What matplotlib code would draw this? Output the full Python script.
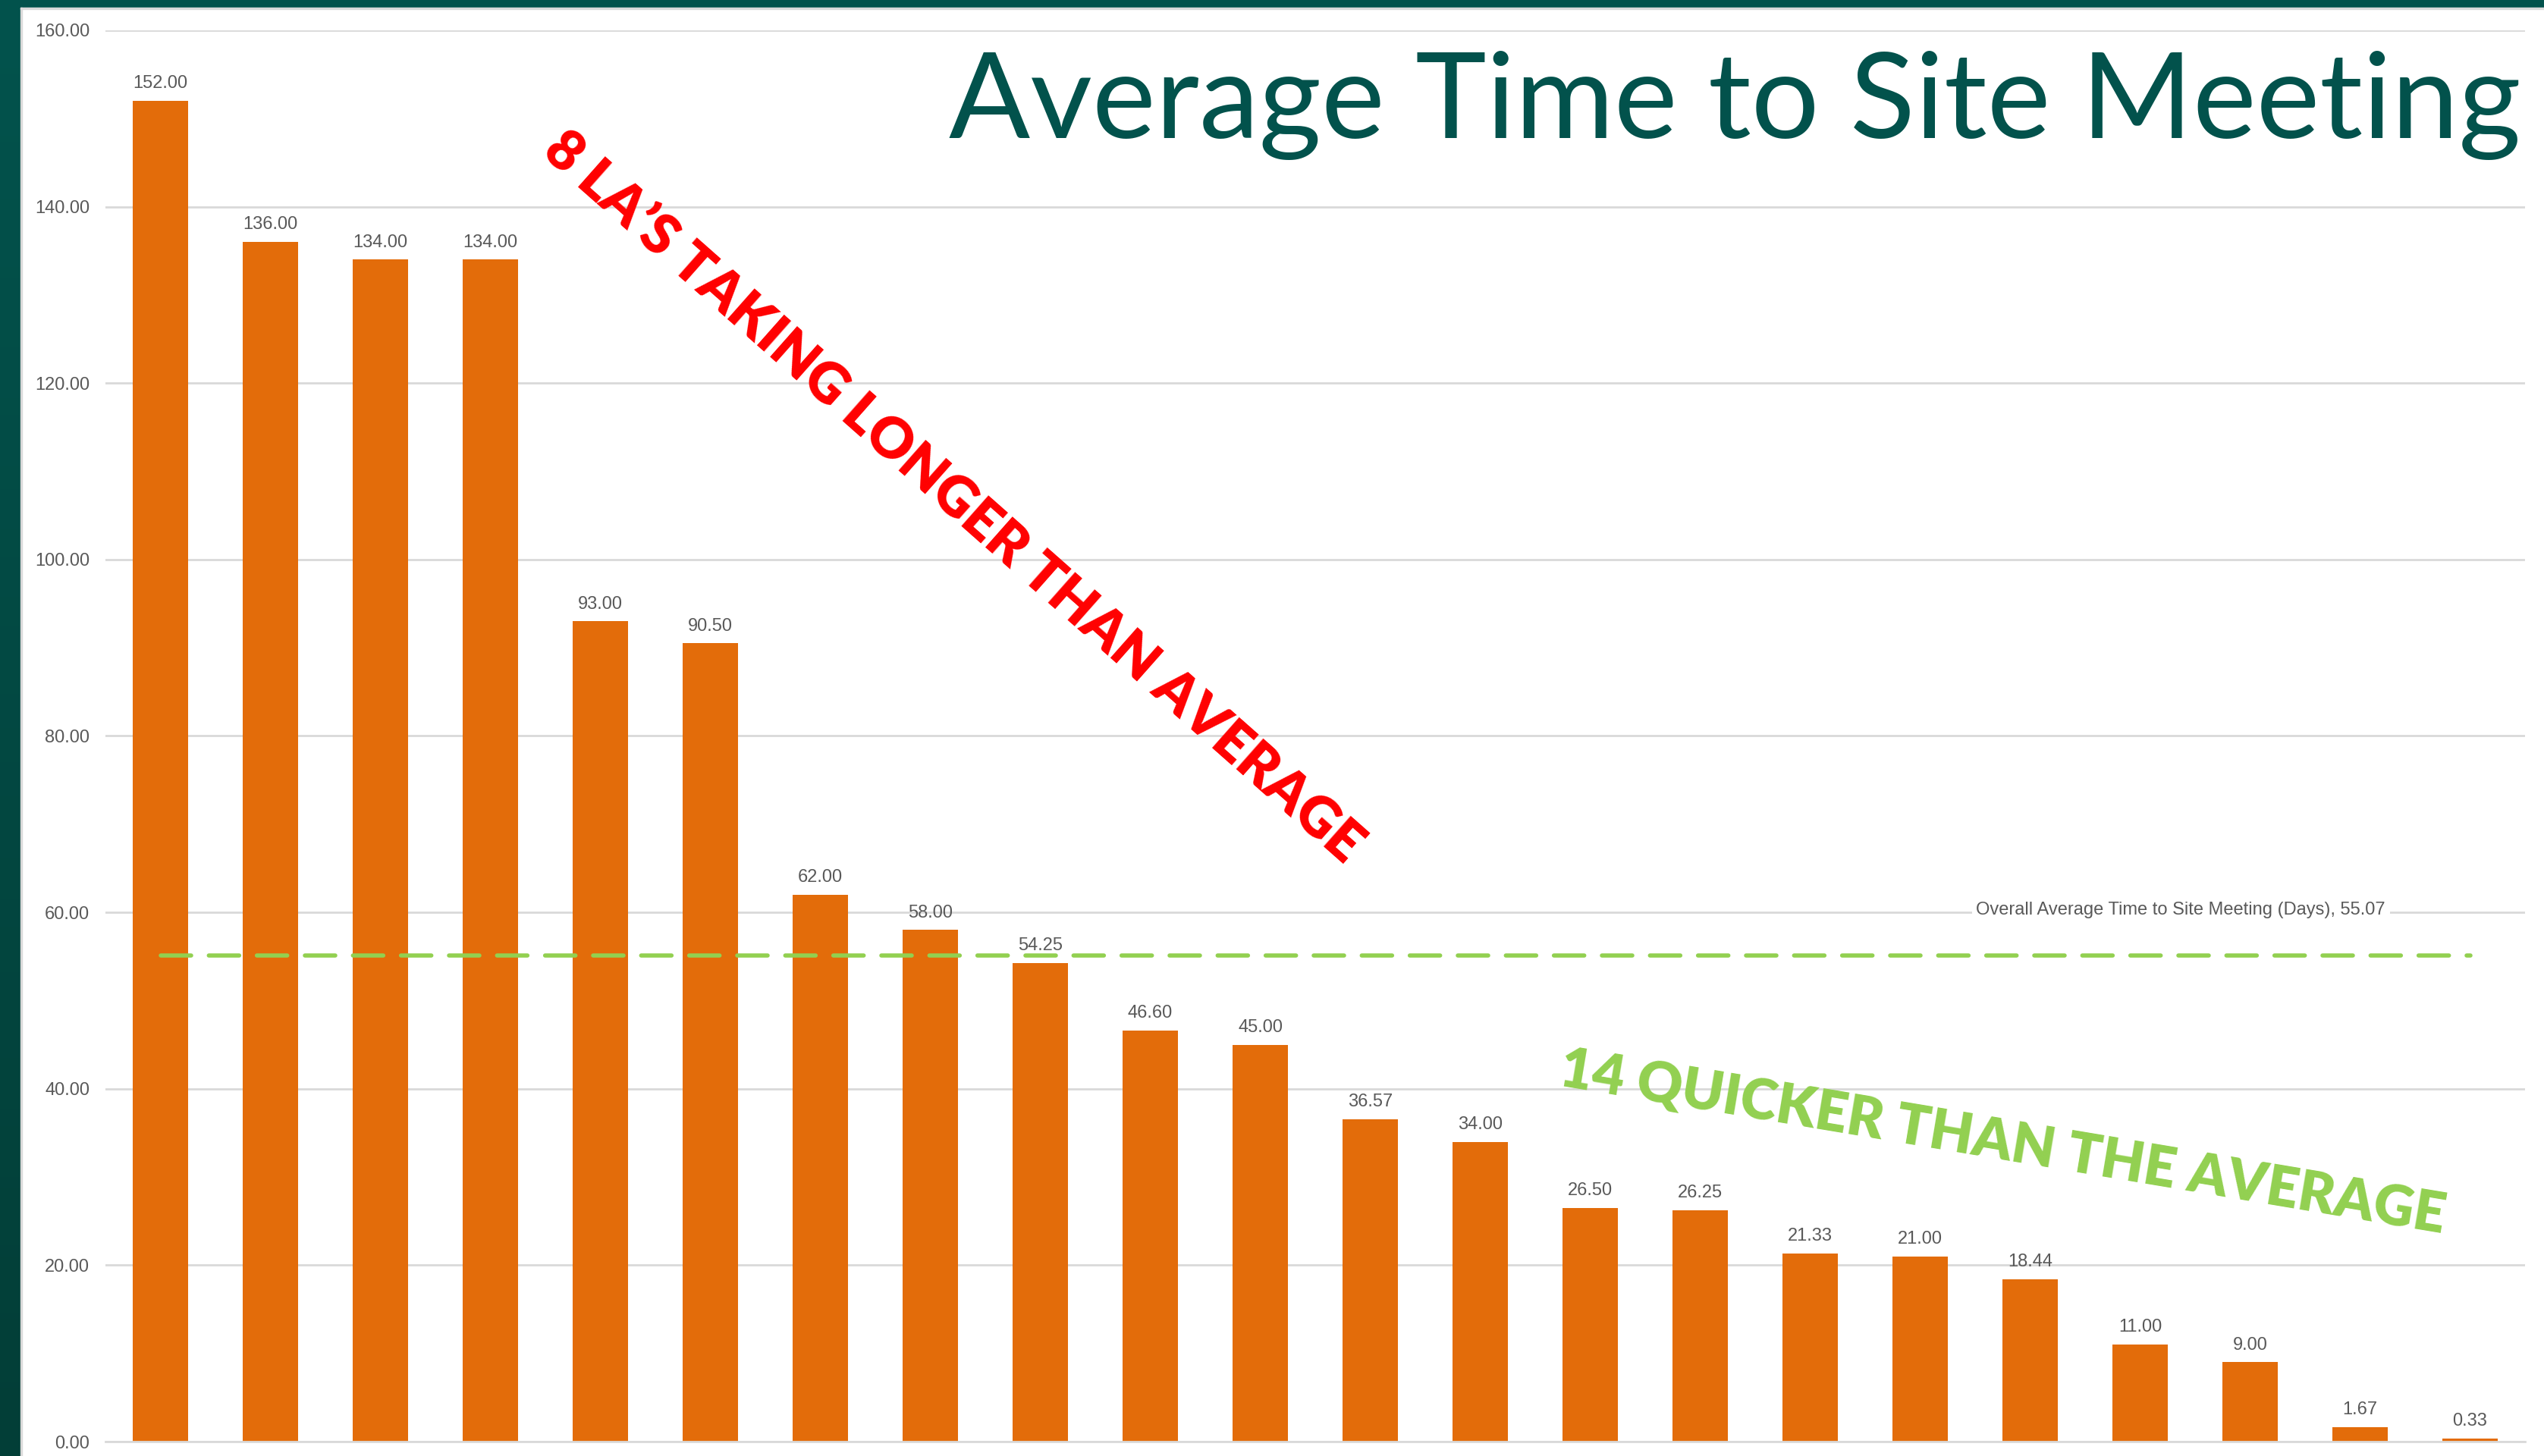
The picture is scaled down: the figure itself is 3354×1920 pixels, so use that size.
import matplotlib
matplotlib.use("Agg")
import matplotlib.pyplot as plt
import numpy as np
from matplotlib.patches import Rectangle
from matplotlib.colors import LinearSegmentedColormap

days = [152.00, 136.00, 134.00, 134.00, 93.00, 90.50, 62.00, 58.00, 54.25, 46.60, 45.00,
        36.57, 34.00, 26.50, 26.25, 21.33, 21.00, 18.44, 11.00, 9.00, 1.67, 0.33]
overall_avg = 55.07
avg_label = "Overall Average Time to Site Meeting (Days), 55.07"
title = "Average Time to Site Meeting"
note_longer = "8 LA\u2019S TAKING LONGER THAN AVERAGE"
note_quicker = "14 QUICKER THAN THE AVERAGE"
yticks = [0, 20, 40, 60, 80, 100, 120, 140, 160]

bar_col = '#E36C0A'
grey_txt = '#595959'
grid_col = '#D9D9D9'
teal = '#02524C'

fig = plt.figure(figsize=(33.54, 19.2), dpi=100)
fig.patch.set_facecolor('white')

# frame: top strip + gradient left strip
fig.patches.append(Rectangle((0, 1 - 10 / 1920), 1, 10 / 1920, transform=fig.transFigure,
                             color=teal, zorder=0))
fig.patches.append(Rectangle((27 / 3354, 1 - 12 / 1920), 1, 2 / 1920, transform=fig.transFigure,
                             color=grid_col, zorder=0))
fig.patches.append(Rectangle((27 / 3354, 0), 2 / 3354, 1 - 10 / 1920, transform=fig.transFigure,
                             color=grid_col, zorder=0))
gax = fig.add_axes([0, 0, 27 / 3354, 1])
grad = np.linspace(0, 1, 256).reshape(-1, 1)
cmap = LinearSegmentedColormap.from_list('edge', ['#02534D', '#023E37'])
gax.imshow(grad, aspect='auto', cmap=cmap, extent=[0, 1, 0, 1])
gax.set_axis_off()

ax = fig.add_axes([139 / 3354, 1 - 1901 / 1920, (3329 - 139) / 3354, (1901 - 40) / 1920])
x = np.arange(len(days))
bars = ax.bar(x, days, width=0.5, color=bar_col, zorder=2)
for xi, v in zip(x, days):
    ax.annotate(f"{v:.2f}", (xi, v), xytext=(0, 12), textcoords='offset points',
                ha='center', va='baseline', fontsize=17, color=grey_txt,
                family='Liberation Sans', zorder=4)

# average line (dashes scaled by linewidth)
ax.plot(x, [overall_avg] * len(x), color='#92D050', lw=4, dashes=(7.2, 4.2),
        dash_capstyle='round', zorder=3)
ax.text(18.37, 60.3, avg_label, ha='center', va='center', fontsize=17, color=grey_txt,
        family='Liberation Sans', zorder=3,
        bbox=dict(facecolor='white', edgecolor='none', pad=4))

ax.set_xlim(-0.5, len(days) - 0.5)
ax.set_ylim(0, 160)
ax.set_yticks(yticks)
ax.set_yticklabels([f"{t:.2f}" for t in yticks], fontsize=17, color=grey_txt,
                   family='Liberation Sans')
ax.tick_params(axis='y', length=0, pad=15)
ax.tick_params(axis='x', length=0, labelbottom=False)
ax.grid(axis='y', color=grid_col, lw=2, zorder=0)
for s in ['top', 'right', 'left']:
    ax.spines[s].set_visible(False)
ax.spines['bottom'].set_color(grid_col)
ax.spines['bottom'].set_linewidth(2)
ax.set_axisbelow(True)

ax.text(7.2, 107.0, note_longer, rotation=-41.5, rotation_mode='anchor', ha='center',
        va='center', fontsize=53, fontweight='heavy', color='#FF0000', family='Lato', zorder=5)
ax.text(16.75, 33.8, note_quicker, rotation=-9.5, rotation_mode='anchor', ha='center',
        va='center', fontsize=53, fontweight='heavy', color='#92D050', family='Lato', zorder=5)

fig.text(1251 / 3354, 1 - 182 / 1920, title, ha='left', va='baseline', fontsize=114,
         color=teal, family='Lato')

fig.savefig('out.png', dpi=100)
